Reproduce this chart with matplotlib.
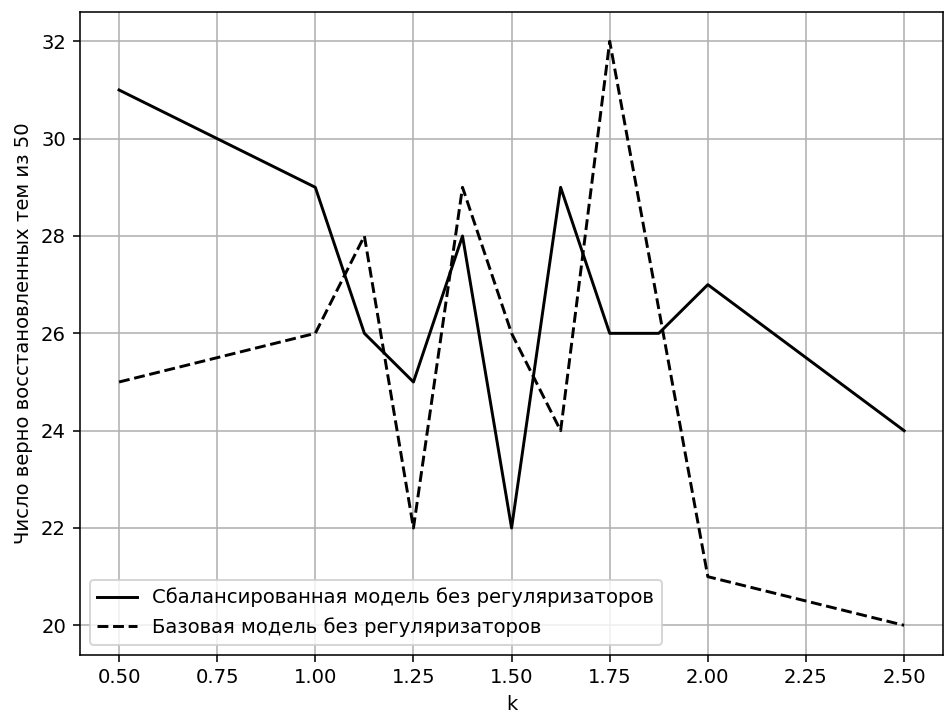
import matplotlib.pyplot as plt

k_bal = [0.5, 1.0, 1.125, 1.25, 1.375, 1.5, 1.625, 1.75, 1.875, 2.0, 2.5]
topics_bal = [31, 29, 26, 25, 28, 22, 29, 26, 26, 27, 24]

k_base = [0.5, 1.0, 1.125, 1.25, 1.375, 1.5, 1.625, 1.75, 2.0, 2.5]
topics_base = [25, 26, 28, 22, 29, 26, 24, 32, 21, 20]

fig, ax = plt.subplots(figsize=(950 / 141, 713 / 141), dpi=141)
ax.plot(k_bal, topics_bal, 'k-', label='Сбалансированная модель без регуляризаторов')
ax.plot(k_base, topics_base, 'k--', label='Базовая модель без регуляризаторов')
ax.set_xlabel('k')
ax.set_ylabel('Число верно восстановленных тем из 50')
ax.grid(True)
ax.legend(loc='lower left')
plt.subplots_adjust(left=0.084, right=0.993, top=0.983, bottom=0.082)
plt.savefig('out.png')
